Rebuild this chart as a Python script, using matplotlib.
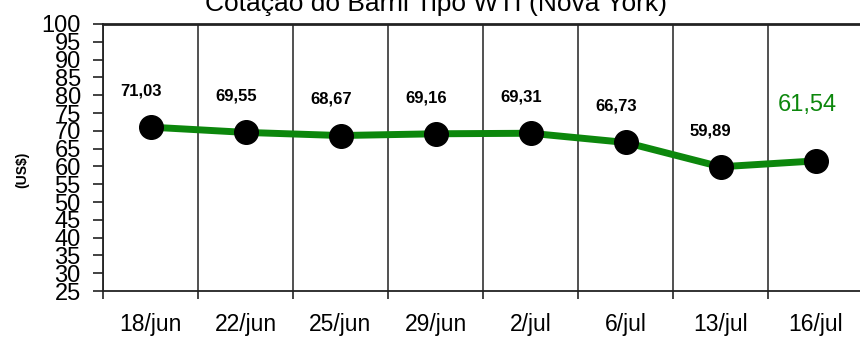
import matplotlib.pyplot as plt
import numpy as np

plt.rcParams['font.family'] = ['Liberation Sans', 'DejaVu Sans']

# dados da cotação
datas = ['18/jun', '22/jun', '25/jun', '29/jun', '2/jul', '6/jul', '13/jul', '16/jul']
precos = [71.03, 69.55, 68.67, 69.16, 69.31, 66.73, 59.89, 61.54]
rotulos = ['71,03', '69,55', '68,67', '69,16', '69,31', '66,73', '59,89', '61,54']
y_ticks = list(range(25, 101, 5))

verde = '#0c870c'

fig = plt.figure(figsize=(8.6, 3.4), dpi=100)
ax = fig.add_axes([103 / 860, 49 / 340, 760 / 860, 267 / 340])

x = np.arange(len(datas))
ax.plot(x, precos, color=verde, lw=5, zorder=3, solid_capstyle='round')
ax.plot(x, precos, 'o', color='black', ms=17, zorder=4)

# rótulos de valor
for i, (v, r) in enumerate(zip(precos, rotulos)):
    if i == len(precos) - 1:
        ax.annotate(r, (i, v), xytext=(-6, 40), textcoords='offset points',
                    ha='center', va='center', fontsize=17, color=verde)
    else:
        ax.annotate(r, (i, v), xytext=(-7, 26), textcoords='offset points',
                    ha='center', va='center', fontsize=12, fontweight='bold',
                    color='black')

ax.set_xlim(-0.5, len(datas) - 0.5)
ax.set_ylim(25, 100)
ax.set_yticks(y_ticks)
ax.set_yticklabels([str(t) for t in y_ticks], fontsize=17)
ax.set_xticks(x)
ax.set_xticklabels(datas, fontsize=16.5)
ax.set_xticks(np.arange(-0.5, len(datas)), minor=True)

ax.tick_params(axis='x', which='major', length=0, pad=16)
ax.tick_params(axis='x', which='minor', length=6, width=1.2, direction='out', color='#222222')
ax.tick_params(axis='y', which='major', length=7, width=1.2, direction='out', pad=9, color='#222222')
ax.grid(True, axis='x', which='minor', color='#333333', lw=1.2)

for s in ['left', 'bottom', 'top', 'right']:
    ax.spines[s].set_color('#222222')
    ax.spines[s].set_linewidth(1.3)
ax.spines['top'].set_linewidth(2)

fig.text(22 / 860, 1 - 170 / 340, '(US$)', rotation=90, fontsize=10,
         fontweight='bold', ha='center', va='center')
fig.text(436 / 860, 1 - 11 / 340, 'Cotação do Barril Tipo WTI (Nova York)',
         fontsize=19, ha='center', va='baseline')

fig.savefig('out.png', dpi=100)
